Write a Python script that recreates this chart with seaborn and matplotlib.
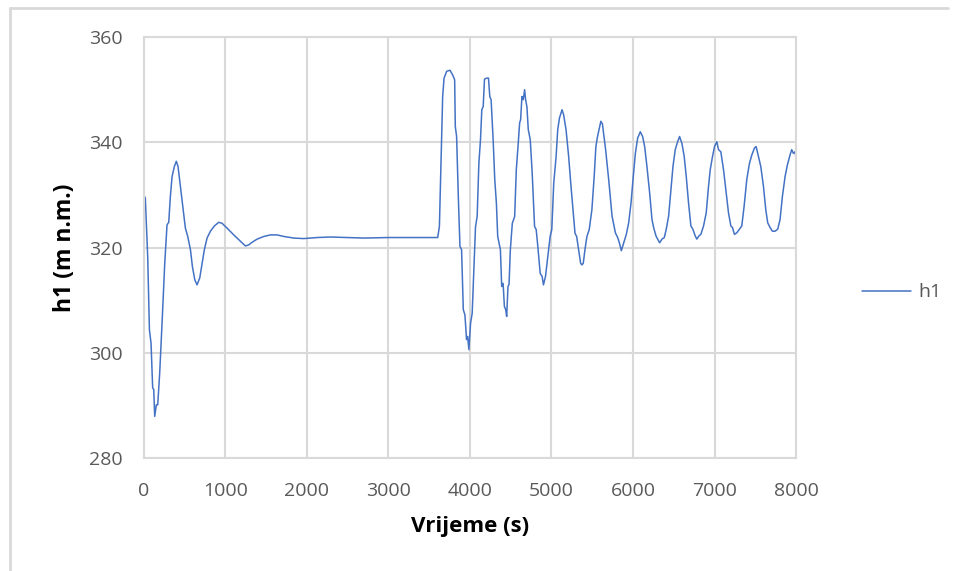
import pandas as pd
import matplotlib
matplotlib.use("Agg")
import matplotlib.pyplot as plt
import seaborn as sns
from matplotlib.lines import Line2D

# h1 water level
time_s = [
    0, 20, 49, 70, 90, 110, 123, 135, 155, 172, 196, 225, 258, 286, 307, 327, 348, 376, 400, 421,
    450, 483, 511, 540, 573, 597, 626, 654, 687, 716, 744, 777, 818, 867, 920, 961, 1022, 1104,
    1186, 1247, 1288, 1329, 1391, 1472, 1554, 1636, 1718, 1841, 1963, 2127, 2290, 2495, 2699,
    3000, 3300, 3605, 3626, 3646, 3666, 3683, 3715, 3756, 3789, 3813, 3821, 3837, 3858, 3878,
    3898, 3919, 3939, 3959, 3972, 3988, 4008, 4028, 4049, 4069, 4089, 4110, 4130, 4146, 4163,
    4179, 4203, 4228, 4244, 4260, 4285, 4305, 4325, 4341, 4358, 4374, 4390, 4407, 4423, 4439,
    4451, 4467, 4480, 4496, 4520, 4549, 4569, 4590, 4610, 4622, 4638, 4654, 4671, 4683, 4699,
    4716, 4740, 4764, 4793, 4813, 4833, 4862, 4886, 4902, 4927, 4955, 4984, 5004, 5028, 5057,
    5077, 5098, 5130, 5150, 5179, 5211, 5240, 5268, 5289, 5309, 5333, 5358, 5374, 5390, 5411,
    5435, 5463, 5496, 5524, 5545, 5565, 5585, 5606, 5625, 5645, 5665, 5702, 5743, 5784, 5812,
    5833, 5857, 5886, 5918, 5947, 5976, 6000, 6029, 6057, 6090, 6118, 6143, 6171, 6204, 6233,
    6253, 6282, 6302, 6327, 6355, 6384, 6408, 6437, 6465, 6490, 6518, 6547, 6571, 6600, 6628,
    6653, 6681, 6710, 6734, 6763, 6783, 6808, 6832, 6865, 6898, 6926, 6947, 6975, 7000, 7028,
    7049, 7077, 7110, 7142, 7171, 7200, 7220, 7244, 7273, 7306, 7334, 7363, 7395, 7428, 7457,
    7489, 7510, 7538, 7567, 7600, 7628, 7652, 7681, 7710, 7742, 7775, 7803, 7832, 7865, 7893,
    7926, 7946, 7967, 7987, 8000,
]
h1 = [
    330.0, 329.4, 318.3, 304.4, 301.8, 293.3, 293.0, 287.9, 290.1, 290.1, 296.1, 305.6, 317.0,
    324.3, 324.8, 329.7, 333.5, 335.4, 336.4, 335.4, 331.6, 327.2, 323.7, 322.1, 319.6, 316.4,
    313.9, 312.9, 314.2, 317.0, 319.6, 321.8, 323.1, 324.1, 324.8, 324.6, 323.7, 322.4, 321.2,
    320.3, 320.5, 321.0, 321.6, 322.1, 322.4, 322.4, 322.1, 321.8, 321.7, 321.9, 322.0, 321.9,
    321.8, 321.9, 321.9, 321.9, 324.0, 336.0, 348.7, 352.2, 353.5, 353.7, 352.8, 351.9, 343.0,
    341.1, 329.7, 320.2, 319.6, 308.2, 307.2, 302.5, 303.1, 300.6, 305.6, 307.5, 315.8, 324.0,
    325.9, 336.0, 340.5, 346.2, 346.8, 352.0, 352.2, 352.2, 348.7, 348.1, 340.5, 332.9, 328.4,
    322.1, 320.8, 319.6, 312.6, 313.2, 308.8, 308.2, 306.9, 312.6, 313.0, 319.6, 324.6, 325.9,
    334.8, 339.2, 343.7, 344.3, 348.7, 348.1, 350.0, 348.1, 346.8, 342.4, 340.5, 334.1, 324.0,
    323.4, 320.2, 315.1, 314.5, 312.9, 314.5, 318.3, 322.1, 323.4, 332.2, 337.3, 342.4, 344.6,
    346.2, 345.2, 342.4, 337.3, 331.6, 326.5, 322.7, 322.1, 319.6, 317.0, 316.7, 317.0, 319.6,
    322.1, 323.4, 327.2, 333.5, 339.2, 341.1, 342.5, 344.0, 343.5, 341.0, 338.5, 332.9, 326.0,
    322.8, 321.9, 320.9, 319.4, 320.9, 322.5, 324.7, 328.5, 332.9, 337.9, 340.8, 342.0, 341.1,
    339.2, 335.4, 330.4, 325.3, 323.8, 322.2, 321.6, 320.9, 321.6, 321.9, 323.5, 326.0, 331.0,
    335.4, 338.6, 340.1, 341.1, 339.8, 337.3, 333.5, 328.5, 324.1, 323.5, 322.2, 321.6, 322.2,
    322.5, 324.1, 326.6, 331.6, 334.8, 337.3, 339.2, 340.1, 338.6, 338.2, 334.8, 330.4, 326.6,
    324.1, 323.8, 322.5, 322.8, 323.5, 324.1, 327.9, 332.9, 336.0, 337.6, 338.9, 339.2, 337.3,
    335.4, 331.6, 327.2, 324.7, 323.8, 323.1, 323.1, 323.5, 325.3, 329.7, 333.5, 335.7, 337.6,
    338.6, 337.9, 338.2, 337.0,
]

x_ticks = [0, 1000, 2000, 3000, 4000, 5000, 6000, 7000, 8000]
y_ticks = [280, 300, 320, 340, 360]

df = pd.DataFrame({"Vrijeme": time_s, "h1": h1})

sns.set_theme(style="white")
plt.rcParams["font.family"] = ["Open Sans", "DejaVu Sans"]

grid_col = "#d9d9d9"
text_col = "#595959"
line_col = "#4472c4"

fig = plt.figure(figsize=(9.58, 5.71), dpi=100)
ax = fig.add_axes([0.150, 0.198, 0.681, 0.737])

sns.lineplot(data=df, x="Vrijeme", y="h1", ax=ax, color=line_col, linewidth=1.1,
             sort=False, estimator=None)

ax.set_xlim(0, 8000)
ax.set_ylim(280, 360)
ax.set_xticks(x_ticks)
ax.set_yticks(y_ticks)
ax.grid(True, color=grid_col, linewidth=1.5)
ax.set_axisbelow(True)
for s in ax.spines.values():
    s.set_color(grid_col)
    s.set_linewidth(1.5)
ax.tick_params(axis="both", length=0, labelsize=14, labelcolor=text_col)
ax.tick_params(axis="x", pad=17)
ax.tick_params(axis="y", pad=15)

ax.set_xlabel("Vrijeme (s)", fontsize=16, fontweight="bold", color="black", labelpad=12)
ax.set_ylabel("h1 (m n.m.)", fontsize=16.5, fontweight="bold", color="black", labelpad=9)

handle = Line2D([0], [0], color=line_col, linewidth=1.1)
leg = fig.legend([handle], ["h1"], loc="center left", bbox_to_anchor=(0.882, 0.488),
                 frameon=False, fontsize=14, handlelength=2.5, handletextpad=0.4)
for t in leg.get_texts():
    t.set_color(text_col)

# chart area border (top and left edges)
fig.add_artist(Line2D([10 / 958, 948 / 958], [1 - 8 / 571, 1 - 8 / 571],
                      transform=fig.transFigure, color=grid_col, linewidth=2))
fig.add_artist(Line2D([10 / 958, 10 / 958], [1 - 8 / 571, 0],
                      transform=fig.transFigure, color=grid_col, linewidth=2))

fig.savefig("out.png", dpi=100)
